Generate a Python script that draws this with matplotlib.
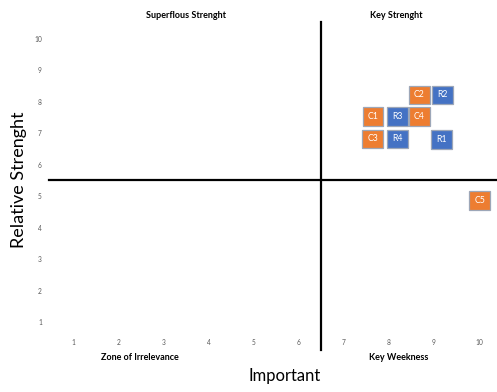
import matplotlib
matplotlib.use("Agg")
import matplotlib.pyplot as plt
from matplotlib.patches import Rectangle

plt.rcParams['font.family'] = ['Lato', 'DejaVu Sans']

# Data
labels = ["C1", "R3", "C2", "R2", "C4", "C3", "R4", "R1", "C5"]
importance = [7.65, 8.20, 8.68, 9.19, 8.68, 7.64, 8.19, 9.17, 10.02]
strength = [7.54, 7.54, 8.22, 8.22, 7.54, 6.82, 6.82, 6.80, 4.85]
groups = ["C", "R", "C", "R", "C", "C", "R", "R", "C"]
x_ticks = [1, 2, 3, 4, 5, 6, 7, 8, 9, 10]
y_ticks = [1, 2, 3, 4, 5, 6, 7, 8, 9, 10]
x_split = 6.5
y_split = 5.5

colors = {"C": "#ED7D31", "R": "#4472C4"}

W, H = 497, 392
fig = plt.figure(figsize=(W / 100, H / 100), dpi=100)
left, right, top, bottom = 46, 497, 22, 338
ax = fig.add_axes([left / W, 1 - bottom / H, (right - left) / W, (bottom - top) / H])
ax.set_xlim(0.40, 10.40)
ax.set_ylim(0.49, 10.54)
for s in ax.spines.values():
    s.set_visible(False)

ax.set_xticks(x_ticks)
ax.set_yticks(y_ticks)
ax.tick_params(axis='both', length=0, labelsize=4.8, colors='#595959')
ax.tick_params(axis='x', pad=1)
ax.tick_params(axis='y', pad=3)

ax.axhline(y_split, xmin=3 / (right - left), xmax=1, color='black', lw=1.6, clip_on=False)
ax.axvline(x_split, ymin=-12 / (bottom - top), ymax=1, color='black', lw=1.6, clip_on=False)

bw, bh = 0.46, 0.60
for lab, xv, yv, g in zip(labels, importance, strength, groups):
    ax.add_patch(Rectangle((xv - bw / 2, yv - bh / 2), bw, bh, facecolor=colors[g],
                           edgecolor='#9DA7B8', lw=0.9, zorder=3))
    ax.text(xv, yv, lab, color='white', ha='center', va='center', fontsize=6.3, zorder=4)

def fx(px):
    return px / W

def fy(py):
    return 1 - py / H

fig.text(fx(186), fy(15), "Superflous Strenght", ha='center', va='center', fontsize=6.5, fontweight='bold')
fig.text(fx(396), fy(15), "Key Strenght", ha='center', va='center', fontsize=6.5, fontweight='bold')
fig.text(fx(140), fy(357), "Zone of Irrelevance", ha='center', va='center', fontsize=6.5, fontweight='bold')
fig.text(fx(399), fy(357), "Key Weekness", ha='center', va='center', fontsize=6.5, fontweight='bold')
fig.text(fx(285), fy(376), "Important", ha='center', va='center', fontsize=12)
fig.text(fx(19), fy(180), "Relative Strenght", ha='center', va='center', fontsize=13, rotation=90)

fig.savefig("out.png", dpi=100)
